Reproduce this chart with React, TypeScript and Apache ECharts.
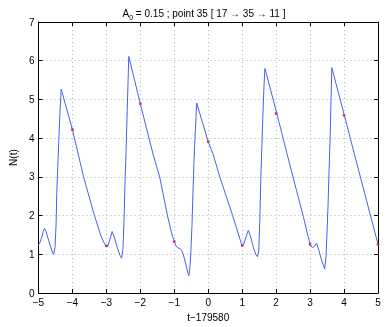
import React, { useEffect, useRef } from 'react';
import * as echarts from 'echarts';

const tValues = [
  -5.0, -4.95, -4.9, -4.85, -4.82, -4.78, -4.72, -4.65, -4.58, -4.55, -4.51, -4.48, -4.46, -4.43, -4.4, -4.37, -4.34, -4.33,
  -4.0, -3.67, -3.35, -3.15, -3.05, -3.0, -2.96, -2.9, -2.83, -2.77, -2.68, -2.6, -2.55, -2.51, -2.48, -2.45, -2.42, -2.39, -2.36, -2.34,
  -2.0, -1.62, -1.43, -1.2, -1.08, -1.0, -0.95, -0.9, -0.83, -0.78, -0.73, -0.66, -0.6, -0.57, -0.54, -0.51, -0.48, -0.45, -0.42, -0.39, -0.36, -0.34,
  0.0, 0.15, 0.34, 0.72, 0.88, 0.96, 1.0, 1.04, 1.1, 1.18, 1.25, 1.33, 1.4, 1.45, 1.49, 1.52, 1.55, 1.58, 1.61, 1.64, 1.67,
  2.02, 2.32, 2.6, 2.8, 2.93, 3.0, 3.06, 3.12, 3.19, 3.26, 3.34, 3.43, 3.47, 3.5, 3.53, 3.56, 3.59, 3.62, 3.64,
  4.01, 4.31, 4.6, 4.8, 5.0,
];
const nValues = [
  1.24, 1.32, 1.45, 1.62, 1.67, 1.6, 1.42, 1.22, 1.03, 1.0, 1.2, 1.8, 2.6, 3.3, 3.95, 4.6, 5.1, 5.27,
  4.22, 3.0, 2.0, 1.45, 1.27, 1.22, 1.2, 1.38, 1.59, 1.45, 1.18, 0.98, 0.9, 1.15, 1.9, 2.9, 3.65, 4.6, 5.5, 6.11,
  4.89, 3.57, 3.0, 2.0, 1.55, 1.33, 1.22, 1.17, 1.15, 1.1, 0.98, 0.75, 0.52, 0.45, 0.65, 1.1, 1.7, 2.6, 3.4, 4.0, 4.55, 4.91,
  3.91, 3.57, 3.0, 2.0, 1.55, 1.32, 1.23, 1.24, 1.42, 1.62, 1.45, 1.18, 1.0, 0.94, 1.1, 1.9, 3.0, 3.8, 4.6, 5.3, 5.8,
  4.64, 3.6, 2.65, 1.98, 1.5, 1.26, 1.18, 1.2, 1.29, 1.1, 0.85, 0.62, 0.95, 1.6, 2.3, 3.2, 4.0, 5.1, 5.82,
  4.59, 3.57, 2.6, 1.93, 1.26,
];
const markerT = [-4, -3, -2, -1, 0, 1, 2, 3, 4, 5];
const markerN = [4.22, 1.22, 4.89, 1.33, 3.91, 1.23, 4.64, 1.26, 4.59, 1.26];

const titleMain = ' = 0.15 ; point 35 [ 17 \u2192 35 \u2192 11 ]';
const xName = 't\u2212179580';
const yName = 'N(t)';

const FONT = 'Liberation Sans';

export default function App() {
  const ref = useRef<HTMLDivElement>(null);
  useEffect(() => {
    const chart = echarts.init(ref.current!, null, { renderer: 'svg' });
    const lineData = tValues.map((t, i) => [t, nValues[i]]);
    const markData = markerT.map((t, i) => [t, markerN[i]]);
    const fmt = (v: number) => String(v).replace('-', '\u2212');
    const gridLine = { show: true, lineStyle: { color: '#b4b4b4', width: 1, type: [1, 3] as any } };
    const axisLine = { show: true, onZero: false, lineStyle: { color: '#000', width: 1 } };
    const tick = { show: true, inside: true, length: 4, lineStyle: { color: '#000' } };
    chart.setOption({
      animation: false,
      textStyle: { fontFamily: FONT },
      title: {
        text: '{m|A}{s|0}{m|' + titleMain + '}',
        left: 199,
        top: 0,
        textAlign: 'center',
        textStyle: {
          fontWeight: 'normal',
          rich: {
            m: { fontSize: 10, fontFamily: FONT, fontWeight: 'normal', color: '#000', lineHeight: 16, verticalAlign: 'middle' },
            s: { fontSize: 7, fontFamily: FONT, fontWeight: 'normal', color: '#000', lineHeight: 16, verticalAlign: 'bottom' },
          },
        },
      },
      grid: { left: 21, right: 8, top: 22, bottom: 24, show: false },
      xAxis: [
        {
          type: 'value', min: -5, max: 5, interval: 1, position: 'bottom',
          axisLine, axisTick: tick,
          axisLabel: { color: '#000', fontSize: 10, margin: 4, formatter: fmt, fontFamily: FONT },
          splitLine: gridLine,
          name: xName, nameLocation: 'middle', nameGap: 16,
          nameTextStyle: { color: '#000', fontSize: 10, fontFamily: FONT },
        },
        {
          type: 'value', min: -5, max: 5, interval: 1, position: 'top',
          axisLine, axisTick: tick,
          axisLabel: { show: false }, splitLine: { show: false },
        },
      ],
      yAxis: [
        {
          type: 'value', min: 0, max: 7, interval: 1, position: 'left',
          axisLine, axisTick: tick,
          axisLabel: { color: '#000', fontSize: 10, margin: 4, fontFamily: FONT },
          splitLine: gridLine,
          name: yName, nameLocation: 'middle', nameGap: 13, nameRotate: 90,
          nameTextStyle: { color: '#000', fontSize: 10, fontFamily: FONT },
        },
        {
          type: 'value', min: 0, max: 7, interval: 1, position: 'right',
          axisLine, axisTick: tick,
          axisLabel: { show: false }, splitLine: { show: false },
        },
      ],
      series: [
        {
          type: 'line', data: lineData, xAxisIndex: 0, yAxisIndex: 0,
          showSymbol: false, smooth: false,
          lineStyle: { color: '#4a5ef5', width: 1 },
        },
        {
          type: 'scatter', data: markData, xAxisIndex: 0, yAxisIndex: 0,
          symbol: 'circle', symbolSize: 3,
          itemStyle: { color: '#ff0000' },
        },
      ],
    });
    return () => chart.dispose();
  }, []);
  return <div ref={ref} style={{ position: 'fixed', left: 0, top: 0, width: 386, height: 327 }} />;
}
